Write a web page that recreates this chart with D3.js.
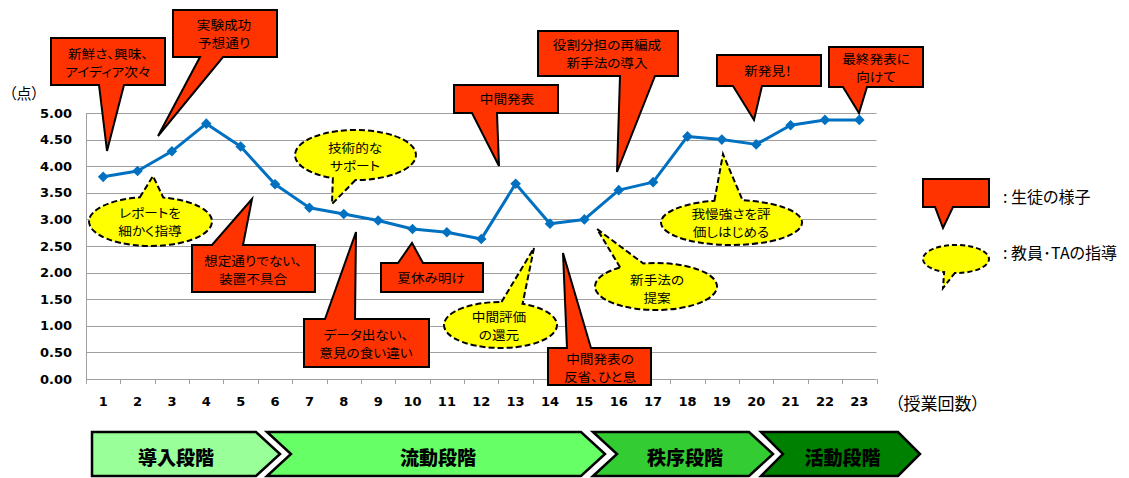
<!DOCTYPE html>
<html>
<head>
<meta charset="utf-8">
<script src="https://cdn.jsdelivr.net/npm/d3@7"></script>
<style>
  body { margin: 0; background: #fff; }
  svg { display: block; }
  .jp { font-family: "Noto Sans CJK JP", "Noto Sans", sans-serif; font-feature-settings: "palt"; }
</style>
</head>
<body>
<svg id="chart" width="1129" height="478"></svg>
<script>
// Lesson numbers and average score per lesson
const lessons = [1,2,3,4,5,6,7,8,9,10,11,12,13,14,15,16,17,18,19,20,21,22,23];
const scores  = [3.80,3.91,4.28,4.80,4.37,3.66,3.22,3.10,2.98,2.82,2.76,2.63,3.67,2.92,3.00,3.55,3.70,4.56,4.50,4.41,4.77,4.87,4.87];
const yTicks  = [0,0.5,1,1.5,2,2.5,3,3.5,4,4.5,5];

// Course stages shown under the chart
const stageNames  = ["導入段階","流動段階","秩序段階","活動段階"];
const stageColors = ["#99FF99","#66FF66","#33CC33","#008000"];

// Student-state notes (red boxes) and instructor/TA guidance (yellow bubbles)
const studentNotes = [
  ["新鮮さ、興味、","アイディア次々"],
  ["実験成功","予想通り"],
  ["想定通りでない、","装置不具合"],
  ["データ出ない、","意見の食い違い"],
  ["夏休み明け"],
  ["中間発表"],
  ["中間発表の","反省、ひと息"],
  ["役割分担の再編成","新手法の導入"],
  ["新発見！"],
  ["最終発表に","向けて"]
];
const guidanceNotes = [
  ["レポートを","細かく指導"],
  ["技術的な","サポート"],
  ["中間評価","の還元"],
  ["新手法の","提案"],
  ["我慢強さを評","価しはじめる"]
];
const legendLabels = [": 生徒の様子", ": 教員･TAの指導"];
const yTitle = "（点）";
const xTitle = "（授業回数）";

// ---- layout ----
const plot = { left: 86, right: 876.5, top: 113, bottom: 379 };
const LINE_GAP = 18;

// box: x0,y0,x1,y1 ; side of pointer ; pointer base b0,b1 ; tip ; text centre (x, y)
const boxLayout = [
  { box:[51,38,165,85],   side:"bottom", base:[99,124],  tip:[107,151], tx:108, ty:63 },
  { box:[173,10,277,57],  side:"bottom", base:[200,223], tip:[158,136], tx:224, ty:33.5 },
  { box:[192,245,315,292],side:"top",    base:[212,243], tip:[252,199], tx:253, ty:269.5 },
  { box:[304,319,429,367],side:"top",    base:[325,355], tip:[356,232], tx:366, ty:343.5 },
  { box:[381,263,483,292],side:"top",    base:[398,423], tip:[412,243], tx:431, ty:278 },
  { box:[454,85,558,113], side:"bottom", base:[472,497], tip:[499,166], tx:507, ty:99 },
  { box:[548,348,651,385],side:"top",    base:[567,591], tip:[563,253], tx:600, ty:367.5 },
  { box:[538,31,678,76],  side:"bottom", base:[620,655], tip:[617,172], tx:607, ty:54 },
  { box:[717,55,821,86],  side:"bottom", base:[733,762], tip:[754,120], tx:768, ty:71 },
  { box:[829,47,923,87],  side:"bottom", base:[843,867], tip:[859,113], tx:876, ty:68 }
];
// bubble: centre, radii, tail base angles (deg), tip, text centre
const bubbleLayout = [
  { c:[150.5,221.5], r:[61.5,24.5], a:[260,282], tip:[153,176], tx:150, ty:221.5 },
  { c:[355.5,155],   r:[60.5,25],   a:[90,112],  tip:[332,204], tx:355, ty:156.5 },
  { c:[500.5,325],   r:[56.5,23],   a:[271,293], tip:[534,248], tx:499, ty:325.5 },
  { c:[656,286.5],   r:[61,23.5],   a:[234,258], tip:[597,229], tx:657, ty:288.5 },
  { c:[731.5,222.5], r:[70.5,22.5], a:[256,279], tip:[723,154], tx:731, ty:222.5 }
];
// chevrons: left edge, notch depth, top-right corner, point
const stageLayout = [
  { left:92,  notch:0,  right:256, point:280 },
  { left:267, notch:24, right:581, point:605 },
  { left:593, notch:24, right:749, point:773 },
  { left:761, notch:22, right:898, point:920 }
];

const RED = "#FF3300", YELLOW = "#FFFF00", BLUE = "#0070C0", GRID = "#A0A0A0";

const svg = d3.select("#chart");

const x = d3.scaleBand().domain(lessons).range([plot.left, plot.right]).padding(0);
const y = d3.scaleLinear().domain([0, 5]).range([plot.bottom, plot.top]);

// gridlines
svg.append("g").selectAll("line").data(yTicks).join("line")
  .attr("x1", plot.left).attr("x2", plot.right)
  .attr("y1", d => Math.round(y(d)) + 0.5).attr("y2", d => Math.round(y(d)) + 0.5)
  .attr("stroke", GRID).attr("stroke-width", 1);

// vertical axis line
svg.append("line")
  .attr("x1", plot.left + 0.5).attr("x2", plot.left + 0.5)
  .attr("y1", y(5)).attr("y2", y(0) + 0.5)
  .attr("stroke", GRID);

// tick marks between lessons
const bounds = lessons.map(d => x(d)).concat([plot.right]);
svg.append("g").selectAll("line").data(bounds).join("line")
  .attr("x1", d => Math.round(d) + 0.5).attr("x2", d => Math.round(d) + 0.5)
  .attr("y1", Math.round(y(0))).attr("y2", Math.round(y(0)) + 5)
  .attr("stroke", GRID);

// y axis labels
const yAxis = svg.append("g")
  .attr("transform", `translate(${plot.left},0)`)
  .call(d3.axisLeft(y).tickValues(yTicks).tickFormat(d3.format(".2f")).tickSize(0).tickPadding(14));
yAxis.select(".domain").remove();
yAxis.selectAll("text")
  .attr("font-family", "DejaVu Sans, sans-serif")
  .attr("font-weight", "bold").attr("font-size", 13).attr("fill", "#000");

// x axis labels
const xAxis = svg.append("g")
  .attr("transform", `translate(0,${plot.bottom})`)
  .call(d3.axisBottom(x).tickSize(0).tickPadding(18));
xAxis.select(".domain").remove();
xAxis.selectAll("text")
  .attr("font-family", "DejaVu Sans, sans-serif")
  .attr("font-weight", "bold").attr("font-size", 13).attr("fill", "#000");

// axis titles
svg.append("text").attr("class", "jp")
  .attr("x", 9).attr("y", 92).attr("dominant-baseline", "central")
  .attr("font-size", 15).attr("fill", "#000").text(yTitle);
svg.append("text").attr("class", "jp")
  .attr("x", 895).attr("y", 402).attr("dominant-baseline", "central")
  .attr("font-size", 17).attr("fill", "#000").text(xTitle);

// score line with diamond markers
const series = lessons.map((l, i) => ({ lesson: l, score: scores[i] }));
const cx = d => x(d.lesson) + x.bandwidth() / 2;
svg.append("path").datum(series)
  .attr("fill", "none").attr("stroke", BLUE).attr("stroke-width", 3)
  .attr("stroke-linejoin", "round")
  .attr("d", d3.line().x(cx).y(d => y(d.score)));
svg.append("g").selectAll("path").data(series).join("path")
  .attr("d", d3.symbol(d3.symbolSquare, 56))
  .attr("transform", d => `translate(${cx(d)},${y(d.score)}) rotate(45)`)
  .attr("fill", BLUE);

// ---- callout shapes ----
function boxPath(L) {
  const [x0, y0, x1, y1] = L.box, [b0, b1] = L.base, [tx, ty] = L.tip;
  if (L.side === "bottom")
    return `M${x0},${y0}H${x1}V${y1}H${b1}L${tx},${ty}L${b0},${y1}H${x0}Z`;
  return `M${x0},${y0}H${b0}L${tx},${ty}L${b1},${y0}H${x1}V${y1}H${x0}Z`;
}
function bubblePath(L) {
  const [cxx, cyy] = L.c, [rx, ry] = L.r;
  const p = a => [cxx + rx * Math.cos(a * Math.PI / 180), cyy + ry * Math.sin(a * Math.PI / 180)];
  const p1 = p(L.a[0]), p2 = p(L.a[1]);
  return `M${p1}L${L.tip}L${p2}A${rx},${ry} 0 1 1 ${p1}Z`;
}
// centred multi-line label, slightly widened glyphs
function writeLines(g, lines, tx, ty) {
  const y0 = ty - (lines.length - 1) * LINE_GAP / 2;
  g.append("text").attr("class", "jp")
    .attr("transform", `translate(${tx},0) scale(1.1,1)`)
    .attr("text-anchor", "middle").attr("font-size", 12.4).attr("fill", "#000")
    .selectAll("tspan").data(lines).join("tspan")
    .attr("x", 0).attr("y", (d, i) => y0 + i * LINE_GAP).attr("dominant-baseline", "central")
    .text(d => d);
}

const notesG = svg.append("g");
studentNotes.forEach((lines, i) => {
  const L = boxLayout[i];
  const g = notesG.append("g");
  g.append("path").attr("d", boxPath(L))
    .attr("fill", RED).attr("stroke", "#000").attr("stroke-width", 2).attr("stroke-linejoin", "miter");
  writeLines(g, lines, L.tx, L.ty);
});
guidanceNotes.forEach((lines, i) => {
  const L = bubbleLayout[i];
  const g = notesG.append("g");
  g.append("path").attr("d", bubblePath(L))
    .attr("fill", YELLOW).attr("stroke", "#000").attr("stroke-width", 2)
    .attr("stroke-dasharray", "6,3");
  writeLines(g, lines, L.tx, L.ty);
});

// ---- legend ----
const legendG = svg.append("g");
legendG.append("path")
  .attr("d", boxPath({ box:[923,179,989,207], side:"bottom", base:[935,953], tip:[943,228] }))
  .attr("fill", RED).attr("stroke", "#000").attr("stroke-width", 2);
legendG.append("path")
  .attr("d", bubblePath({ c:[956,259], r:[33,14], a:[92,111], tip:[943,288] }))
  .attr("fill", YELLOW).attr("stroke", "#000").attr("stroke-width", 2)
  .attr("stroke-dasharray", "5,3");
legendG.selectAll("text").data(legendLabels).join("text").attr("class", "jp")
  .attr("x", 1003).attr("y", (d, i) => i === 0 ? 196 : 252)
  .attr("dominant-baseline", "central").attr("font-size", 16).attr("fill", "#000")
  .text(d => d);

// ---- stage chevrons ----
const bandTop = 432, bandBot = 476, bandMid = (bandTop + bandBot) / 2;
const stageG = svg.append("g");
stageNames.forEach((name, i) => {
  const s = stageLayout[i];
  const d = `M${s.left},${bandTop}H${s.right}L${s.point},${bandMid}L${s.right},${bandBot}H${s.left}` +
            (s.notch ? `L${s.left + s.notch},${bandMid}Z` : "Z");
  stageG.append("path").attr("d", d)
    .attr("fill", stageColors[i]).attr("stroke", "#000").attr("stroke-width", 2.5)
    .attr("stroke-linejoin", "miter");
  const textX = (s.left + s.notch + s.right) / 2 + 2;
  stageG.append("text").attr("class", "jp")
    .attr("x", textX).attr("y", bandMid + 2).attr("text-anchor", "middle")
    .attr("dominant-baseline", "central")
    .attr("font-size", 19).attr("font-weight", 900).attr("fill", "#000")
    .text(name);
});
</script>
</body>
</html>
